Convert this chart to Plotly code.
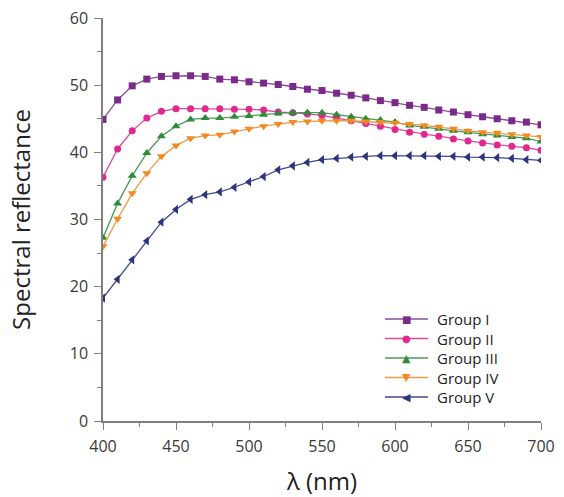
import plotly.graph_objects as go

# Wavelengths sampled every 10 nm
wavelength = list(range(400, 701, 10))

group_1 = [44.9, 47.8, 49.9, 50.9, 51.3, 51.4, 51.4, 51.3, 50.9, 50.8, 50.5,
           50.3, 50.1, 49.8, 49.4, 49.2, 48.8, 48.5, 48.1, 47.7, 47.4,
           47.0, 46.7, 46.3, 46.0, 45.6, 45.3, 45.0, 44.7, 44.5, 44.1]
group_2 = [36.3, 40.5, 43.2, 45.1, 46.1, 46.5, 46.5, 46.5, 46.5, 46.4, 46.4,
           46.3, 46.0, 45.9, 45.7, 45.5, 45.1, 44.7, 44.3, 43.9, 43.4,
           43.0, 42.7, 42.4, 42.0, 41.7, 41.4, 41.1, 40.9, 40.7, 40.3]
group_3 = [27.3, 32.4, 36.5, 39.9, 42.4, 43.9, 44.9, 45.1, 45.1, 45.3, 45.4,
           45.6, 45.8, 45.9, 45.9, 45.9, 45.6, 45.3, 45.0, 44.8, 44.5,
           44.0, 43.8, 43.5, 43.2, 43.0, 42.7, 42.5, 42.3, 42.1, 41.6]
group_4 = [26.0, 30.1, 33.9, 36.9, 39.4, 41.0, 42.1, 42.5, 42.6, 43.1, 43.5,
           43.9, 44.2, 44.5, 44.6, 44.7, 44.7, 44.7, 44.6, 44.5, 44.4,
           44.2, 44.0, 43.8, 43.5, 43.2, 43.0, 42.9, 42.7, 42.5, 42.3]
group_5 = [18.3, 21.1, 24.0, 26.8, 29.6, 31.5, 33.0, 33.7, 34.1, 34.8, 35.6,
           36.4, 37.4, 38.0, 38.5, 38.9, 39.1, 39.3, 39.4, 39.5, 39.5,
           39.5, 39.5, 39.4, 39.4, 39.3, 39.3, 39.2, 39.1, 38.9, 38.8]

series_names = ["Group I", "Group II", "Group III", "Group IV", "Group V"]
series_values = [group_1, group_2, group_3, group_4, group_5]
marker_colors = ["#7a2a88", "#e0288e", "#2f8a3c", "#f28a22", "#2e3480"]
line_colors = ["#8e4a9c", "#dc4aa0", "#4c9a58", "#f09a48", "#3f4a86"]
symbols = ["square", "circle", "triangle-up", "triangle-down", "triangle-left"]
key_glyphs = ["■", "●", "▲", "▼", "◀"]
sizes = [7, 7, 8, 8, 8]

fig = go.Figure()
for name, vals, mc, lc, sym, sz in zip(series_names, series_values,
                                       marker_colors, line_colors, symbols, sizes):
    fig.add_trace(go.Scatter(
        x=wavelength, y=vals, name=name, mode="lines+markers",
        line=dict(color=lc, width=1.3),
        marker=dict(symbol=sym, size=sz, color=mc, line=dict(width=0)),
        showlegend=False,
    ))

# Compact key in the lower-right corner of the plot area (paper coordinates)
plot_w, plot_h = 438.0, 403.0
key_font = 15
row_px = key_font * 1.3                 # annotation line spacing
key_center_px = 421 - 358               # middle row, pixels above the x axis
key_x0, key_x1 = (385 - 103) / plot_w, (428 - 103) / plot_w
key_text_x = (435 - 103) / plot_w
for i, (mc, lc, glyph) in enumerate(zip(marker_colors, line_colors, key_glyphs)):
    yk = (key_center_px + (2 - i) * row_px) / plot_h
    fig.add_shape(type="line", xref="paper", yref="paper",
                  x0=key_x0, x1=key_x1, y0=yk, y1=yk,
                  line=dict(color=lc, width=1.5))
    fig.add_annotation(xref="paper", yref="paper", x=(key_x0 + key_x1) / 2, y=yk,
                       text=glyph, showarrow=False, xanchor="center", yanchor="middle",
                       font=dict(size=10 if glyph in "■●" else 11, color=mc,
                                 family="DejaVu Sans"))
fig.add_annotation(xref="paper", yref="paper", x=key_text_x,
                   y=key_center_px / plot_h,
                   text="<br>".join(series_names), showarrow=False, align="left",
                   xanchor="left", yanchor="middle",
                   font=dict(size=key_font, color="#222222",
                             family="Open Sans, sans-serif"))

axis_font = dict(family="Open Sans, sans-serif", size=16, color="#3a3a3a")
tick_style = dict(ticks="outside", ticklen=7, tickcolor="#808080", tickwidth=1.2)

fig.update_layout(
    width=564, height=497,
    margin=dict(l=103, r=23, t=18, b=76, autoexpand=False),
    paper_bgcolor="white", plot_bgcolor="white",
    font=dict(family="Open Sans, sans-serif", color="#222222"),
    showlegend=False,
    xaxis=dict(
        range=[400, 700], dtick=50, tick0=400, automargin=False,
        showline=True, linecolor="#808080", linewidth=1.5,
        showgrid=False, zeroline=False, tickfont=axis_font,
        ticklabelstandoff=3, **tick_style,
        minor=dict(dtick=25, tick0=400, ticks="outside", ticklen=4,
                   tickcolor="#808080", tickwidth=1.2, showgrid=False),
        title=dict(text="λ (nm)", font=dict(size=24, color="#222222"), standoff=20),
    ),
    yaxis=dict(
        range=[0, 60], dtick=10, tick0=0, automargin=False,
        showline=True, linecolor="#808080", linewidth=1.5,
        showgrid=False, zeroline=False, tickfont=axis_font,
        ticklabelstandoff=3, **tick_style,
        minor=dict(dtick=5, tick0=0, ticks="outside", ticklen=4,
                   tickcolor="#808080", tickwidth=1.2, showgrid=False),
        title=dict(text="Spectral reflectance", font=dict(size=24, color="#222222"),
                   standoff=32),
    ),
)

fig.write_html("out.html")
